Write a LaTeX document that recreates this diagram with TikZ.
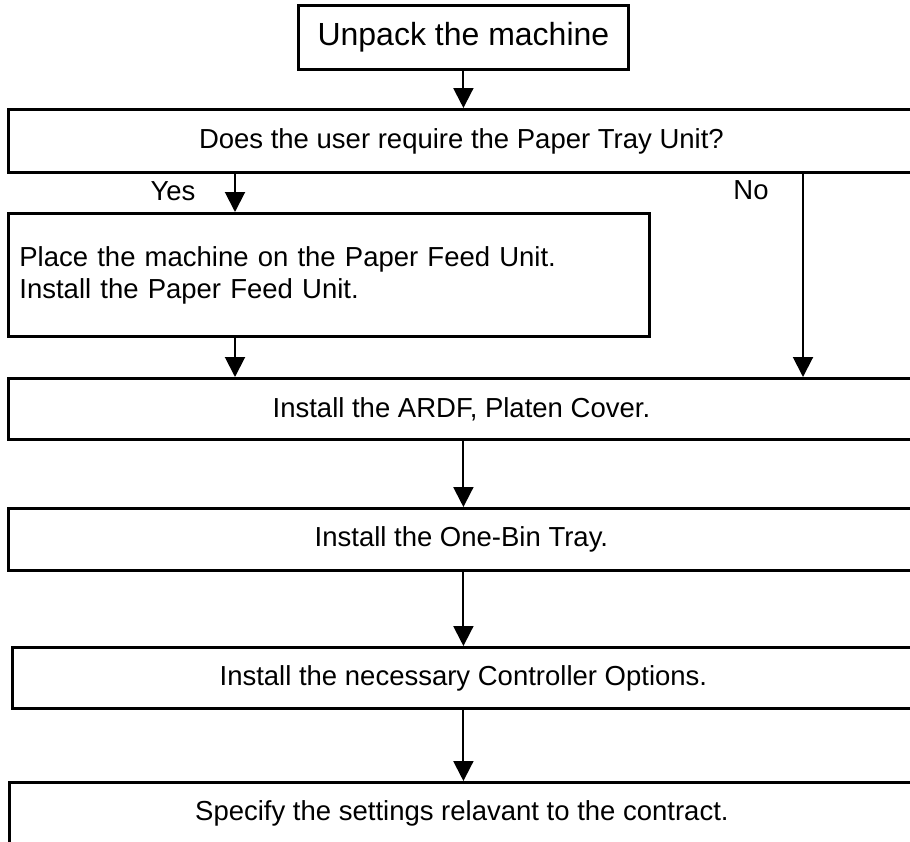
\documentclass[tikz,border=0pt]{standalone}
\usepackage{fontspec}
\setmainfont{Liberation Sans}
\usetikzlibrary{arrows.meta}

\begin{document}
\begin{tikzpicture}[x=0.5pt,y=-0.5pt,
  stepbox/.style={anchor=north west,draw,line width=1.4pt,inner sep=0pt,font=\fontsize{13.75}{16}\selectfont},
  flow/.style={line width=1pt,-{Triangle[length=10pt,width=10pt]}}]
\useasboundingbox (0,0) rectangle (910,841);
\clip (0,0) rectangle (910,841);

\node[stepbox,minimum width=165pt,minimum height=32pt,font=\fontsize{16}{19}\selectfont] (unpack) at (297,4) {Unpack the machine};
\node[stepbox,minimum width=453pt,minimum height=31.5pt] (ask) at (7,108) {Does the user require the Paper Tray Unit?};
\node[stepbox,minimum height=61.5pt,text width=309.5pt,inner xsep=5.5pt,align=left] (feed) at (7,212) {Place the machine on the Paper Feed Unit.\\Install the Paper Feed Unit.};
\node[stepbox,minimum width=453pt,minimum height=30.5pt] (ardf) at (7,377) {Install the ARDF, Platen Cover.};
\node[stepbox,minimum width=453pt,minimum height=31pt] (tray) at (7,507) {Install the One-Bin Tray.};
\node[stepbox,minimum width=451pt,minimum height=30.5pt] (ctrl) at (11,646) {Install the necessary Controller Options.};
\node[stepbox,minimum width=452.5pt,minimum height=31pt] (spec) at (8,781) {Specify the settings relavant to the contract.};

\node[font=\fontsize{13.75}{16}\selectfont] (yes) at (173,191) {Yes};
\node[font=\fontsize{13.75}{16}\selectfont] (no) at (751,190) {No};

% connectors
\draw[flow] (unpack.south) -- (unpack.south |- ask.north);
\draw[flow] ([xshift=114pt]ask.south west) -- ([xshift=114pt]feed.north west);
\draw[flow] ([xshift=398pt]ask.south west) -- ([xshift=398pt]ardf.north west);
\draw[flow] ([xshift=114pt]feed.south west) -- ([xshift=114pt]ardf.north west);
\draw[flow] (unpack.south |- ardf.south) -- (unpack.south |- tray.north);
\draw[flow] (unpack.south |- tray.south) -- (unpack.south |- ctrl.north);
\draw[flow] (unpack.south |- ctrl.south) -- (unpack.south |- spec.north);

\end{tikzpicture}
\end{document}
